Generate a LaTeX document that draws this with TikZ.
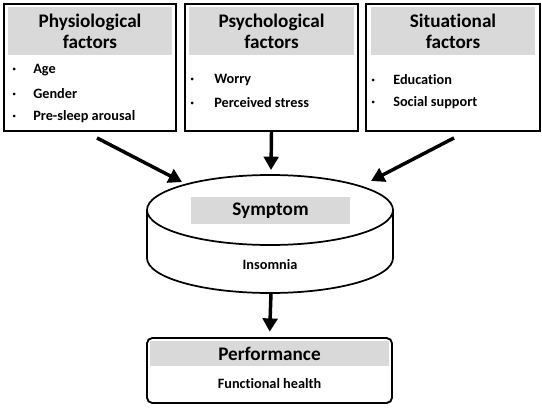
\documentclass[tikz,border=0pt]{standalone}
\usepackage{fontspec}
\setmainfont[Ligatures=NoCommon]{Carlito}
\usetikzlibrary{positioning,calc,arrows.meta}

\newcommand{\itembullet}[1]{\makebox[#1][l]{·}}

\begin{document}
\begin{tikzpicture}[x=0.75pt,y=-0.75pt,
    factor/.style={draw,line width=1.4pt,minimum width=129pt,minimum height=95.25pt,inner sep=0pt},
    header/.style={fill=black!15,inner sep=0pt,align=center,font=\bfseries\fontsize{14.4}{15.75}\selectfont},
    item/.style={anchor=west,inner sep=0pt,font=\bfseries\fontsize{10.7}{12}\selectfont},
    flow/.style={line width=2.6pt,-{Triangle[width=11pt,length=10pt]}}]
    \useasboundingbox (0,0) rectangle (542,407);
    % factor boxes
    \node (phys) [factor] at (90,67.5) {};
    \node (psych) [factor,minimum width=129.75pt] at (271.5,67.5) {};
    \node (situ) [factor,minimum width=130.5pt] at (453,67.5) {};
    \node (phys-h) [header,minimum width=123pt,minimum height=36pt,below=3pt of phys.north] {Physiological\\factors};
    \node (psych-h) [header,minimum width=123.75pt,minimum height=36pt,below=3pt of psych.north] {Psychological\\factors};
    \node (situ-h) [header,minimum width=123pt,minimum height=36pt,below=3pt of situ.north] {Situational\\factors};
    \foreach \txt [count=\i] in {Age,Gender,Pre-sleep arousal}
        \node (phys-\i) [item] at (12,46.5+23.5*\i) {\itembullet{15.75pt}\txt};
    \foreach \txt [count=\i] in {Worry,Perceived stress}
        \node (psych-\i) [item] at (190,57+23*\i) {\itembullet{18pt}\txt};
    \foreach \txt [count=\i] in {Education,Social support}
        \node (situ-\i) [item] at (371,57+23*\i) {\itembullet{16.5pt}\txt};
    % symptom cylinder
    \draw[line width=1.3pt,fill=white] (147,210) -- (147,258)
        arc[start angle=180,end angle=360,x radius=92.25pt,y radius=26.25pt] -- (393,210);
    \draw[line width=1.3pt] (270,210) ellipse [x radius=92.25pt,y radius=26.25pt];
    \node (symp-h) [header,minimum width=119pt,minimum height=20pt] at (270.5,210.5) {Symptom};
    \node (symp-1) [item,anchor=center] at (270,265) {Insomnia};
    \coordinate (cyl-l) at (182,182);
    \coordinate (cyl-m) at (271,170);
    \coordinate (cyl-r) at (371,181);
    \coordinate (cyl-b) at (271,293);
    % performance box
    \node (perf) [draw,rounded corners=4pt,line width=1.4pt,minimum width=183.75pt,minimum height=48.75pt] at (269.5,370.5) {};
    \node (perf-h) [header,minimum width=179.25pt,minimum height=18.75pt,below=3pt of perf.north] {Performance};
    \node (perf-1) [item,anchor=center] at (269.5,384) {Functional health};
    \draw[flow] ($(phys.south)+(7,6)$) -- (cyl-l);
    \draw[flow] (psych.south) -- (cyl-m);
    \draw[flow] ($(situ.south)+(1,6)$) -- (cyl-r);
    \draw[flow,shorten >=4pt] (cyl-b) -- (perf.north);
\end{tikzpicture}
\end{document}
